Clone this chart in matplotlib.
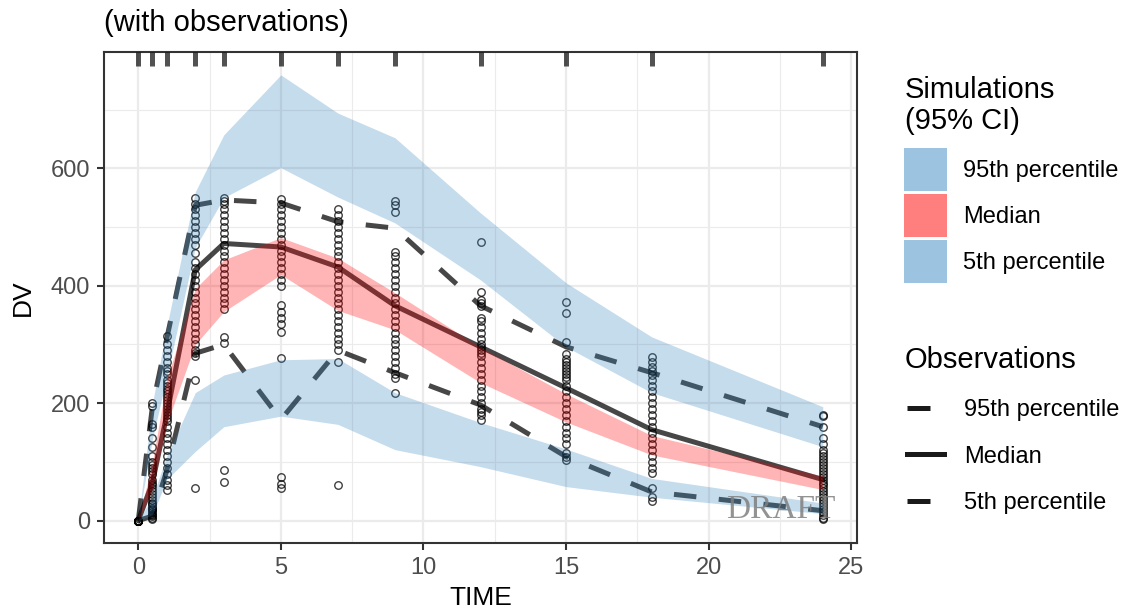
import matplotlib
matplotlib.use("Agg")
import matplotlib.pyplot as plt
from matplotlib.patches import Patch
from matplotlib.lines import Line2D
from matplotlib.ticker import MultipleLocator

plt.rcParams['font.family'] = ['Liberation Sans', 'DejaVu Sans']

# bin times
tbin = [0, 0.5, 1, 2, 3, 5, 7, 9, 12, 15, 18, 24]

# simulated percentile bands (95% CI)
sim_p95_lo = [0, 140, 245, 465, 550, 601, 551, 507, 410, 296, 218, 126]
sim_p95_hi = [0, 200, 330, 560, 657, 759, 694, 652, 524, 405, 313, 194]
sim_p50_lo = [0, 55, 165, 300, 356, 419, 358, 325, 235, 168, 112, 53]
sim_p50_hi = [0, 100, 240, 395, 444, 482, 447, 388, 295, 216, 145, 76]
sim_p05_lo = [0, 10, 70, 118, 160, 178, 164, 121, 92, 58, 40, 12]
sim_p05_hi = [0, 40, 110, 218, 248, 274, 276, 218, 167, 122, 72, 30]

# observed percentiles
obs_p95 = [0, 195, 310, 537, 546, 541, 509, 498, 366, 296, 252, 160]
obs_p50 = [0, 65, 180, 427, 472, 466, 432, 366, 296, 226, 155, 70]
obs_p05 = [0, 8, 85, 285, 300, 172, 290, 252, 197, 109, 49, 17]

# observations per time
dv_t0 = [0, 0, 0, 0, 0, 0, 0, 0, 0, 0]
dv_t05 = [200, 195, 165, 160, 140, 125, 110, 100, 95, 90, 85, 80, 70, 65, 60, 55,
          50, 45, 40, 35, 30, 28, 25, 22, 20, 18, 15, 12, 10, 8, 5, 3]
dv_t1 = [315, 300, 290, 280, 270, 260, 255, 250, 240, 235, 230, 225, 220, 215, 210,
         205, 200, 195, 190, 185, 180, 175, 170, 160, 150, 140, 130, 120, 110, 100,
         90, 80, 70, 60, 52]
dv_t2 = [550, 540, 530, 520, 510, 500, 490, 480, 470, 455, 440, 430, 420, 410, 400,
         390, 380, 370, 360, 350, 340, 330, 320, 310, 300, 290, 285, 280, 240, 55]
dv_t3 = [550, 545, 540, 530, 520, 510, 500, 490, 480, 470, 460, 450, 440, 430, 420,
         410, 400, 390, 380, 370, 360, 312, 303, 87, 66]
dv_t5 = [548, 540, 530, 520, 510, 500, 490, 480, 470, 460, 450, 440, 430, 420, 410,
         400, 368, 355, 345, 335, 322, 277, 75, 62, 55]
dv_t7 = [530, 520, 510, 500, 490, 480, 470, 460, 450, 440, 430, 420, 410, 400, 390,
         380, 370, 360, 350, 340, 330, 320, 310, 300, 290, 270, 61]
dv_t9 = [545, 538, 525, 458, 450, 440, 430, 420, 410, 400, 390, 380, 370, 360, 350,
         340, 330, 320, 310, 300, 290, 280, 270, 260, 250, 243, 218]
dv_t12 = [475, 390, 375, 370, 365, 345, 340, 330, 320, 310, 300, 295, 290, 285, 280,
          270, 260, 250, 240, 230, 220, 210, 200, 190, 185, 180, 172]
dv_t15 = [373, 354, 305, 283, 275, 270, 265, 260, 255, 250, 245, 240, 230, 220, 210,
          200, 190, 180, 170, 160, 150, 140, 130, 115, 108, 104]
dv_t18 = [279, 270, 262, 255, 248, 240, 230, 220, 210, 200, 190, 180, 170, 160, 150,
          140, 130, 120, 110, 100, 90, 82, 56, 40, 34]
dv_t24 = [180, 178, 160, 140, 130, 120, 115, 110, 105, 100, 95, 90, 85, 80, 75, 70,
          65, 60, 55, 50, 45, 40, 35, 30, 25, 20, 15, 10, 5, 3]

obs_cols = [dv_t0, dv_t05, dv_t1, dv_t2, dv_t3, dv_t5, dv_t7, dv_t9, dv_t12, dv_t15, dv_t18, dv_t24]
obs_time = []
obs_dv = []
for t, col in zip(tbin, obs_cols):
    obs_time += [t] * len(col)
    obs_dv += col

blue = '#3182bd'
red = '#ff0000'
line_col = (0, 0, 0, 0.72)
W, H = 1125, 613

fig = plt.figure(figsize=(W / 100, H / 100), dpi=100)
ax = fig.add_axes([104 / W, 70 / H, 753 / W, 491 / H])

# observations
ax.plot(obs_time, obs_dv, linestyle='none', marker='o', markersize=5.4,
        markerfacecolor='none', markeredgecolor=(0, 0, 0, 0.75), markeredgewidth=1.0, zorder=2)

# observed percentile lines
lw = 3.6
ax.plot(tbin, obs_p95, color=line_col, lw=lw, dashes=(4.5, 4.5), zorder=3)
ax.plot(tbin, obs_p50, color=line_col, lw=lw, zorder=3)
ax.plot(tbin, obs_p05, color=line_col, lw=lw, dashes=(4.5, 4.5), zorder=3)

# simulated bands drawn on top
ax.fill_between(tbin, sim_p95_lo, sim_p95_hi, color=blue, alpha=0.28, lw=0, zorder=4)
ax.fill_between(tbin, sim_p50_lo, sim_p50_hi, color=red, alpha=0.29, lw=0, zorder=4)
ax.fill_between(tbin, sim_p05_lo, sim_p05_hi, color=blue, alpha=0.28, lw=0, zorder=4)

# rug of bin times along the top
ax.vlines(tbin, 0.971, 1.0, transform=ax.get_xaxis_transform(), color=(0, 0, 0, 0.68),
          lw=3.6, zorder=5)

ax.set_xlim(-1.2, 25.2)
ax.set_ylim(-38, 798)
ax.xaxis.set_major_locator(MultipleLocator(5))
ax.xaxis.set_minor_locator(MultipleLocator(2.5))
ax.yaxis.set_major_locator(MultipleLocator(200))
ax.yaxis.set_minor_locator(MultipleLocator(100))
ax.grid(which='major', color='#EBEBEB', lw=1.6, zorder=0)
ax.grid(which='minor', color='#EBEBEB', lw=0.8, zorder=0)
ax.set_axisbelow(True)
for s in ax.spines.values():
    s.set_color('#333333')
    s.set_linewidth(1.5)
ax.tick_params(which='major', length=5, width=1.5, color='#333333', labelsize=17,
               labelcolor='#4D4D4D', pad=5)
ax.tick_params(which='minor', length=0)
ax.set_xlabel('TIME', fontsize=19, labelpad=5)
ax.set_ylabel('DV', fontsize=19, labelpad=11)

ax.text(0.971, 0.051, 'DRAFT', transform=ax.transAxes, ha='right', va='baseline',
        family='Liberation Serif', fontsize=24, color='grey', alpha=0.85, zorder=6)

fig.text(104 / W, 1 - 31 / H, '(with observations)', fontsize=21, va='baseline')

# legend titles
fig.text(905 / W, 1 - 98 / H, 'Simulations', fontsize=21, va='baseline')
fig.text(905 / W, 1 - 129 / H, '(95% CI)', fontsize=21, va='baseline')
fig.text(905 / W, 1 - 368 / H, 'Observations', fontsize=21, va='baseline')

sim_handles = [Patch(facecolor=blue, alpha=0.48, lw=0),
               Patch(facecolor=red, alpha=0.5, lw=0),
               Patch(facecolor=blue, alpha=0.48, lw=0)]
sim_labels = ['95th percentile', 'Median', '5th percentile']
leg1 = fig.legend(sim_handles, sim_labels,
                  loc='upper left', bbox_to_anchor=(904 / W, 1 - 148 / H),
                  frameon=False, fontsize=17,
                  handlelength=1.82, handleheight=2.43, labelspacing=0.13,
                  handletextpad=0.68, borderpad=0, borderaxespad=0)

obs_handles = [Line2D([], [], color='#1a1a1a', lw=lw, dashes=(4.6, 20)),
               Line2D([], [], color='#1a1a1a', lw=lw),
               Line2D([], [], color='#1a1a1a', lw=lw, dashes=(4.6, 20))]
leg2 = fig.legend(obs_handles, sim_labels,
                  loc='upper left', bbox_to_anchor=(907 / W, 1 - 399 / H),
                  frameon=False, fontsize=17,
                  handlelength=1.55, labelspacing=1.04,
                  handletextpad=0.85, borderpad=0, borderaxespad=0)

fig.savefig('out.png', dpi=100)
